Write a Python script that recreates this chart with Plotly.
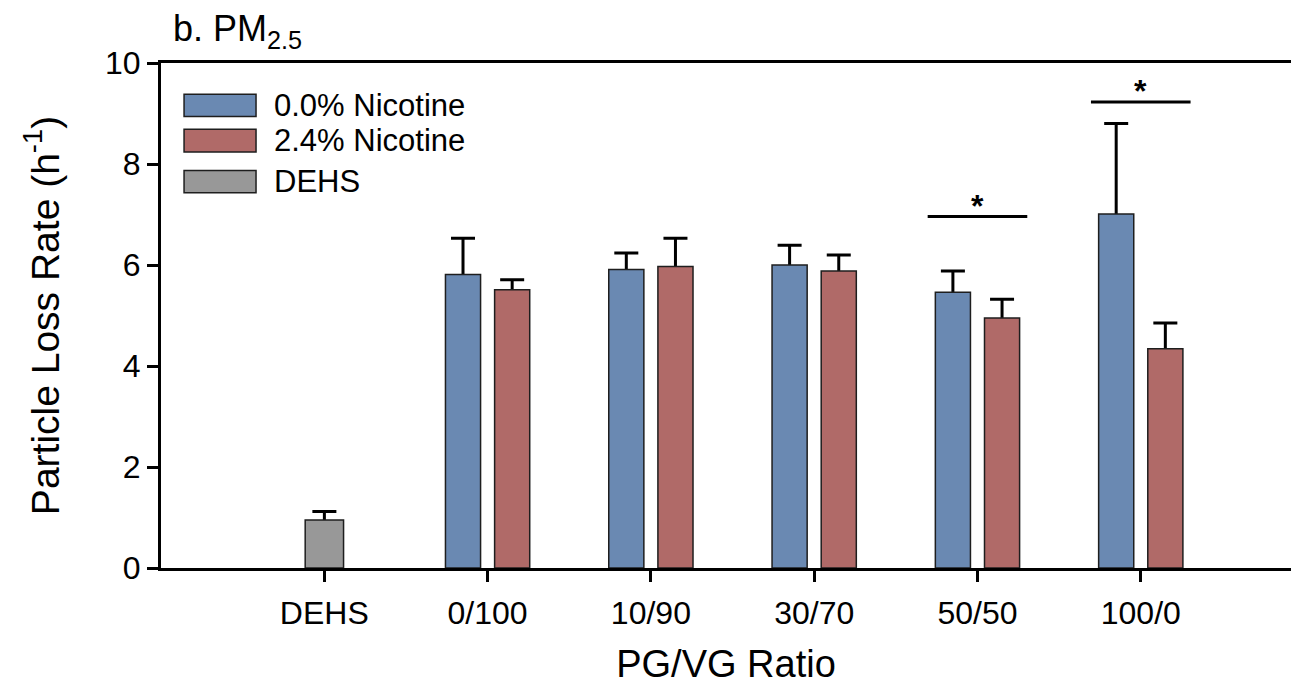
import plotly.graph_objects as go

# Particle loss rates (h^-1) for PM2.5 by PG/VG ratio
categories = ["DEHS", "0/100", "10/90", "30/70", "50/50", "100/0"]
ratios = ["0/100", "10/90", "30/70", "50/50", "100/0"]

nic0_mean = [5.81, 5.91, 6.00, 5.46, 7.01]
nic0_err = [0.72, 0.33, 0.39, 0.42, 1.79]

nic24_mean = [5.51, 5.97, 5.88, 4.95, 4.34]
nic24_err = [0.20, 0.56, 0.32, 0.37, 0.51]

dehs_mean = [0.95]
dehs_err = [0.17]

# significance brackets: group and bracket height
sig_groups = ["50/50", "100/0"]
sig_levels = [6.96, 9.23]

series_names = ["0.0% Nicotine", "2.4% Nicotine", "DEHS"]
series_colors = ["rgb(106,137,178)", "rgb(176,106,104)", "rgb(152,152,152)"]

FONT = "Arial, Liberation Sans, sans-serif"
OUTLINE = dict(color="rgb(30,30,30)", width=1.5)

# (x, mean, err, width, offset, color, name) per series
series = [
    (ratios, nic0_mean, nic0_err, 0.215, -0.258, series_colors[0], series_names[0]),
    (ratios, nic24_mean, nic24_err, 0.215, 0.043, series_colors[1], series_names[1]),
    (["DEHS"], dehs_mean, dehs_err, 0.235, -0.117, series_colors[2], series_names[2]),
]

fig = go.Figure()
for x, mean, e, w, off, color, name in series:
    # upper error whiskers: drawn first so the bar hides the part below its top
    fig.add_trace(go.Bar(x=x, y=mean, width=w, offset=off, showlegend=False,
                         hoverinfo="skip",
                         marker=dict(color="rgba(0,0,0,0)", line=dict(width=0)),
                         error_y=dict(type="data", symmetric=False, array=e,
                                      arrayminus=mean, color="black",
                                      thickness=3, width=12)))
    fig.add_trace(go.Bar(x=x, y=mean, width=w, offset=off, name=name,
                         marker=dict(color=color, line=OUTLINE)))

shapes = []
annotations = []

# significance brackets with asterisks
for g, lvl in zip(sig_groups, sig_levels):
    i = categories.index(g)
    shapes.append(dict(type="line", xref="x", yref="y",
                       x0=i - 0.305, x1=i + 0.305, y0=lvl, y1=lvl,
                       line=dict(color="black", width=3)))
    annotations.append(dict(x=i, y=lvl, xref="x", yref="y", text="<b>*</b>",
                            showarrow=False, yanchor="bottom", yshift=-9,
                            font=dict(family=FONT, size=32, color="black")))

# legend swatches and labels
legend_rows = [(0.938, 0.894), (0.869, 0.824), (0.787, 0.743)]
for (top, bot), name, color in zip(legend_rows, series_names, series_colors):
    shapes.append(dict(type="rect", xref="paper", yref="paper",
                       x0=0.0204, x1=0.0841, y0=bot, y1=top,
                       fillcolor=color, line=dict(color="rgb(30,30,30)", width=1.5)))
    annotations.append(dict(x=0.0985, y=(top + bot) / 2, xref="paper", yref="paper",
                            text=name, showarrow=False, xanchor="left", yanchor="middle",
                            font=dict(family=FONT, size=31, color="black")))

# panel title
annotations.append(dict(x=0.0085, y=1, xref="paper", yref="paper",
                        text="b. PM<sub>2.5</sub>", showarrow=False,
                        xanchor="left", yanchor="bottom", yshift=7,
                        font=dict(family=FONT, size=36, color="black")))

fig.update_layout(
    width=1291, height=688,
    margin=dict(l=161, r=0, t=63, b=120),
    paper_bgcolor="white", plot_bgcolor="white",
    barmode="overlay", showlegend=False,
    font=dict(family=FONT, color="black"),
    shapes=shapes, annotations=annotations,
    xaxis=dict(type="category", categoryorder="array", categoryarray=categories,
               range=[-1, 5.92], showline=True, mirror=True,
               linecolor="black", linewidth=3,
               ticks="outside", ticklen=11, tickwidth=2.5, tickcolor="black",
               tickfont=dict(family=FONT, size=32), ticklabelstandoff=4,
               showgrid=False, zeroline=False,
               title=dict(text="PG/VG Ratio", font=dict(family=FONT, size=38), standoff=20)),
    yaxis=dict(range=[0, 10], tickvals=[0, 2, 4, 6, 8, 10],
               showline=True, linecolor="black", linewidth=3,
               ticks="outside", ticklen=11, tickwidth=2.5, tickcolor="black",
               tickfont=dict(family=FONT, size=32),
               showgrid=False, zeroline=False,
               title=dict(text="Particle Loss Rate (h<sup>-1</sup>)",
                          font=dict(family=FONT, size=39), standoff=34)),
)

fig.write_html("out.html")
